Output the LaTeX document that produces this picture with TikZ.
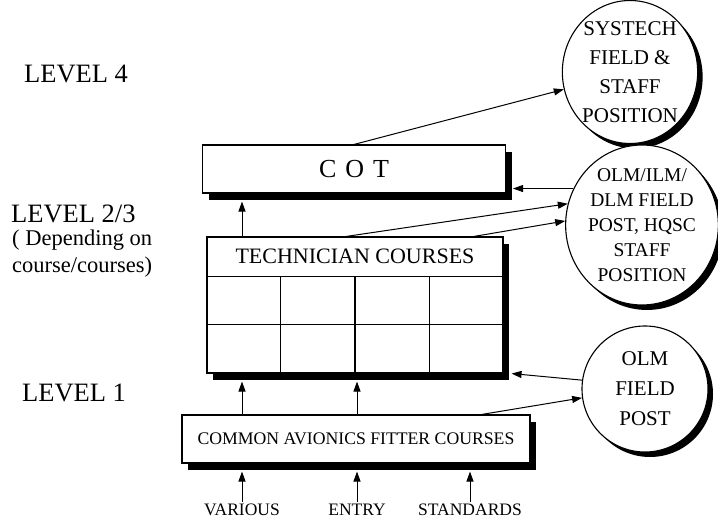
\documentclass[tikz,border=0pt]{standalone}
\usepackage{fontspec}
\setmainfont{Liberation Serif}
\usetikzlibrary{arrows.meta,positioning,calc,shapes.geometric,shadows}

\begin{document}
\begin{tikzpicture}[x=1pt,y=-1pt,
    box/.style={draw,line width=1.1pt,fill=white,rectangle,inner sep=0pt,
      drop shadow={shadow xshift=6pt,shadow yshift=-7pt,fill=black,opacity=1}},
    post/.style={draw,line width=1.1pt,fill=white,ellipse,inner sep=0pt,align=center,
      drop shadow={shadow xshift=5pt,shadow yshift=-5pt,fill=black,opacity=1}},
    lvl/.style={anchor=west,inner sep=0pt,font=\fontsize{26.5}{30}\selectfont},
    src/.style={inner sep=2pt,font=\fontsize{17.5}{20}\selectfont},
    feed/.style={-{Triangle[length=10pt,width=7pt]},line width=1pt}]
  \useasboundingbox (0,0) rectangle (718,521);
  % levels
  \node[lvl] (lvl4) at (24,74) {LEVEL 4};
  \node[lvl] (lvl23) at (11,214) {LEVEL 2/3};
  \node[lvl,align=left,font=\fontsize{22.5}{27}\selectfont] (depend) at (12,254) {( Depending on\\course/courses)};
  \node[lvl] (lvl1) at (22,393) {LEVEL 1};
  % course boxes
  \node[box,minimum width=303pt,minimum height=48pt,font=\fontsize{26}{28}\selectfont] (cot) at (354,169) {C\hspace{9pt}O\hspace{9pt}T};
  \node[box,minimum width=296pt,minimum height=136pt] (tech) at (355,305) {};
  \node[font=\fontsize{22}{24}\selectfont] (techhead) at ($(tech.north)+(0,20)$) {TECHNICIAN COURSES};
  \draw[line width=1.1pt] ($(tech.north west)+(0,40)$) -- ($(tech.north east)+(0,40)$);
  \draw[line width=1.1pt] ($(tech.north west)+(0,88)$) -- ($(tech.north east)+(0,88)$);
  \foreach \i in {1,2,3}
    \draw[line width=1.1pt] ($(tech.north west)!\i/4!(tech.north east)+(0,40)$) -- ($(tech.south west)!\i/4!(tech.south east)$);
  \node[box,minimum width=348pt,minimum height=48pt,font=\fontsize{17.7}{20}\selectfont] (common) at (356,439) {COMMON AVIONICS FITTER COURSES};
  % entry
  \node[src] (various) at (242,510) {VARIOUS};
  \node[src] (entry) at (357,510) {ENTRY};
  \node[src] (standards) at (470,510) {STANDARDS};
  % posts
  \node[post,minimum width=126pt,minimum height=136pt,font=\fontsize{21}{29}\selectfont] (systech) at (630,72) {SYSTECH\\FIELD \&\\STAFF\\POSITION};
  \node[post,minimum width=132pt,minimum height=144pt,font=\fontsize{19.5}{25}\selectfont] (olmilm) at (642,225) {OLM/ILM/\\DLM FIELD\\POST, HQSC\\STAFF\\POSITION};
  \node[post,minimum width=126pt,minimum height=126pt,font=\fontsize{21}{30}\selectfont] (olm) at (645,389) {OLM\\FIELD\\POST};
  % arrows
  \draw[feed] (tech.north -| various) -- ($(cot.south -| various)+(0,8)$);
  \foreach \n in {various,entry}
    \draw[feed] (common.north -| \n) -- ($(tech.south -| \n)+(0,8)$);
  \foreach \n in {various,entry,standards}
    \draw[feed] (\n.north) -- ($(common.south -| \n)+(0,8)$);
  \draw[feed] (cot.north) -- (systech);
  \draw[feed] (olmilm.152) -- ($(cot.east |- olmilm.152)+(7,0)$);
  \draw[feed] ($(tech.north west)!0.47!(tech.north east)$) -- (olmilm.164);
  \draw[feed] ($(tech.north west)!0.9!(tech.north east)$) -- (olmilm.177);
  \draw[feed] (olm.172) -- ($(tech.south east)+(8,0)$);
  \draw[feed] ($(common.north west)!0.86!(common.north east)$) -- (olm.188);
\end{tikzpicture}
\end{document}
